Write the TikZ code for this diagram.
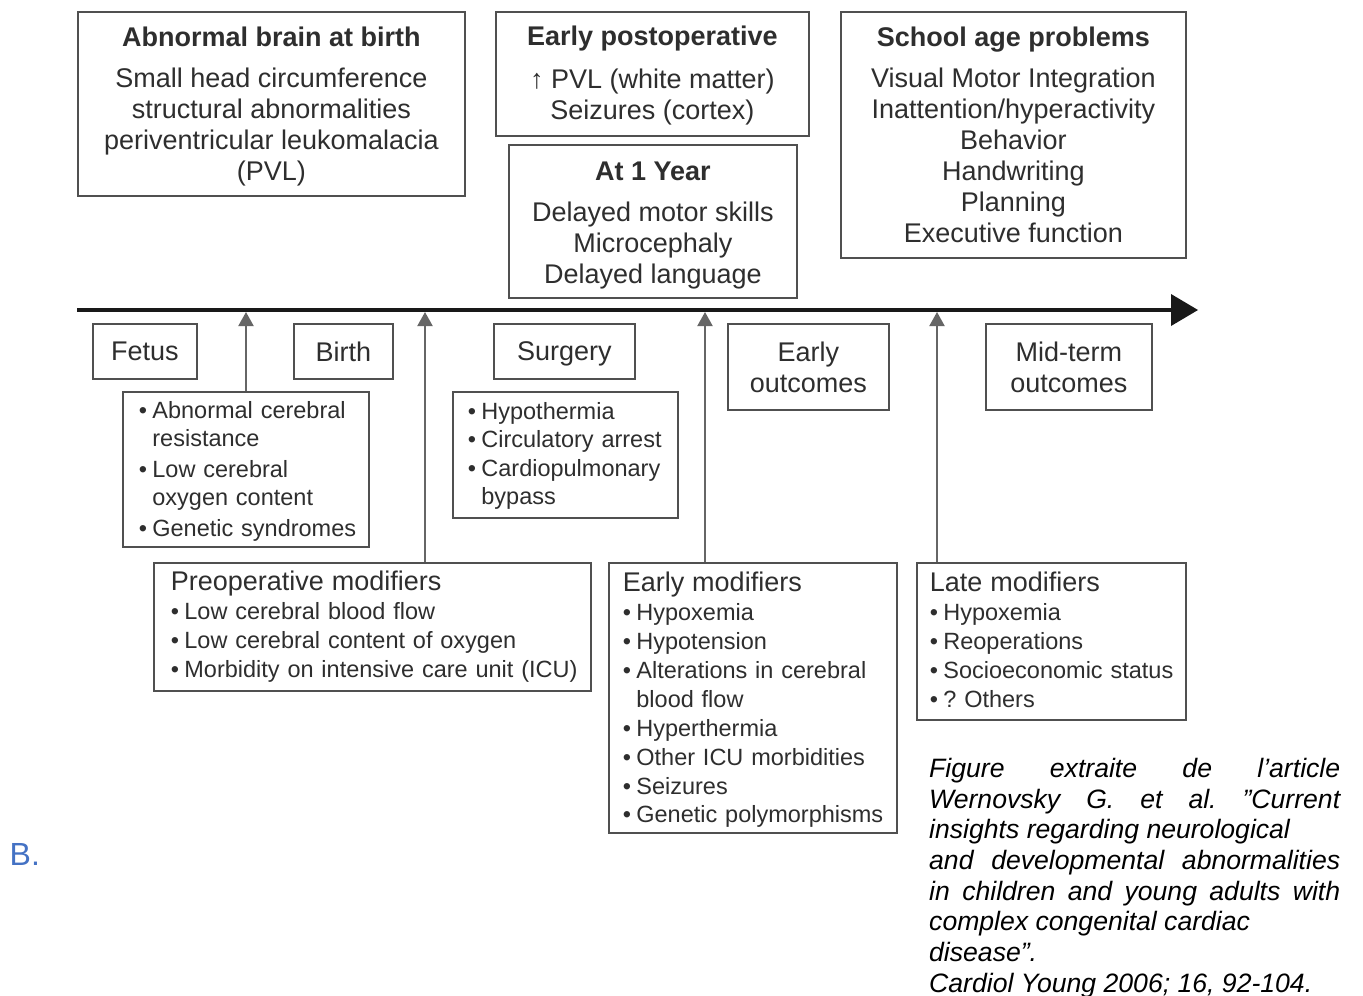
\documentclass[tikz,border=0pt]{standalone}
\usepackage{fontspec}
\setmainfont{Liberation Sans}
\usetikzlibrary{arrows.meta}

\definecolor{txt}{HTML}{2E2E2E}
\definecolor{edgegray}{HTML}{505050}
\definecolor{risergray}{HTML}{666666}
\definecolor{labelblue}{HTML}{4472C4}

\newcommand\fz[2]{\fontsize{#1}{#2}\selectfont}
\newcommand\bul{\makebox[13.5pt][l]{\textbullet}}
\newcommand\bl[1]{\mbox{\bul#1}}
\newcommand\ct[1]{\mbox{\hspace*{13.5pt}#1}}
\newcommand\ttl[1]{{\fz{27}{29}#1}}
% invisible struts that nudge a centred text block up or down
\newcommand\up[1]{\rule{0pt}{#1}}
\newcommand\dnr[1]{\rule[-#1]{0pt}{0pt}}

\tikzset{
  boxf/.style={draw=edgegray, line width=1.8pt, inner sep=0pt, anchor=north west, text=txt},
  cbox/.style={boxf, align=center, font=\fz{27}{31}},
  lbox/.style={boxf, align=left, font=\fz{23.5}{29}},
  riser/.style={draw=risergray, line width=2pt, -{Triangle[length=14pt,width=15pt]}},
  timeline/.style={draw=black!90, line width=4pt, -{Triangle[length=27pt,width=32pt,line width=0pt]}}
}

\begin{document}
\frenchspacing
\begin{tikzpicture}[x=1pt,y=-1pt]
\fill[white] (0,0) rectangle (1363,996);
\useasboundingbox (0,0) rectangle (1363,996);

% outcome boxes above the time axis
\node[cbox, minimum width=387pt, minimum height=184pt] (brain) at (77,11)
  {\up{25.7pt}{\bfseries Abnormal brain at birth}\\[10pt]
   Small head circumference\\ structural abnormalities\\
   periventricular leukomalacia\\ (PVL)};
\node[cbox, minimum width=313pt, minimum height=124pt] (postop) at (495,11)
  {\up{23.7pt}{\bfseries Early postoperative}\\[12pt]
   ↑ PVL (white matter)\\ Seizures (cortex)};
\node[cbox, minimum width=288pt, minimum height=153pt] (year) at (508,144)
  {\up{27.7pt}{\bfseries At 1 Year}\\[10pt]
   Delayed motor skills\\ Microcephaly\\ Delayed language};
\node[cbox, minimum width=345pt, minimum height=246pt] (school) at (840,11)
  {{\bfseries School age problems}\\[10pt]
   Visual Motor Integration\\ Inattention/hyperactivity\\ Behavior\\
   Handwriting\\ Planning\\ Executive function};

% time axis
\coordinate (tstart) at (77,310);
\coordinate (tend) at (1198,310);
\draw[timeline] (tstart) -- (tend);

% stages along the axis
\node[cbox, minimum width=104pt, minimum height=55pt] (fetus) at (92,323) {Fetus};
\node[cbox, minimum width=99pt, minimum height=55pt] (birth) at (293,323) {Birth};
\node[cbox, minimum width=141pt, minimum height=55pt, text depth=0pt] (surgery) at (493,323) {Surgery};
\node[cbox, minimum width=161pt, minimum height=86pt] (earlyout) at (727,323) {Early\\ outcomes};
\node[cbox, minimum width=166pt, minimum height=86pt] (midout) at (985,323) {Mid-term\\ outcomes};

% risk factor lists
\node[lbox, font=\fz{23.5}{28}, text width=214pt, inner xsep=16pt, minimum height=155pt] (fetal) at (122,391)
  {\up{21.5pt}\bl{Abnormal cerebral}\\ \ct{resistance}\\[3pt]
   \bl{Low cerebral}\\ \ct{oxygen content}\\[3pt]
   \bl{Genetic syndromes}};
\node[lbox, font=\fz{23.5}{28.5}, text width=195pt, inner xsep=15pt, minimum height=126pt] (surgrisk) at (452,391)
  {\up{19pt}\bl{Hypothermia}\\ \bl{Circulatory arrest}\\ \bl{Cardiopulmonary}\\ \ct{bypass}};

\node[lbox, text width=403pt, inner xsep=17pt, minimum height=128pt] (preop) at (153,562)
  {\ttl{Preoperative modifiers}\\
   \bl{Low cerebral blood flow}\\
   \bl{Low cerebral content of oxygen}\\
   \bl{Morbidity on intensive care unit (ICU)}};
\node[lbox, font=\fz{23.5}{28.9}, text width=260pt, inner xsep=14pt, minimum height=270pt] (earlymod) at (608,562)
  {\up{23.7pt}\ttl{Early modifiers}\\
   \bl{Hypoxemia}\\ \bl{Hypotension}\\ \bl{Alterations in cerebral}\\ \ct{blood flow}\\
   \bl{Hyperthermia}\\ \bl{Other ICU morbidities}\\ \bl{Seizures}\\ \bl{Genetic polymorphisms}};
\node[lbox, text width=243pt, inner xsep=13pt, minimum height=157pt] (latemod) at (916,562)
  {\ttl{Late modifiers}\\
   \bl{Hypoxemia}\\ \bl{Reoperations}\\ \bl{Socioeconomic status}\\ \bl{? Others}\dnr{4pt}};

% arrows from the lists up to the axis
\coordinate (t1) at (246,312);
\coordinate (t2) at (425,312);
\coordinate (t3) at (705,312);
\coordinate (t4) at (937,312);
\draw[riser] (fetal.north -| t1) -- (t1);
\draw[riser] (preop.north -| t2) -- (t2);
\draw[riser] (earlymod.north -| t3) -- (t3);
\draw[riser] (latemod.north -| t4) -- (t4);

% panel letter and source
\node[anchor=base west, inner sep=0pt, text=labelblue, font=\fz{32}{36}] (panel) at (9.5,865) {B.};
\node[anchor=north west, inner sep=0pt, align=left, text=black, font=\fz{26.6}{30.7}\itshape] (source) at (929,758)
  {\makebox[411pt][s]{Figure extraite de l’article}\\
   \makebox[411pt][s]{Wernovsky G. et al. ”Current}\\
   insights regarding neurological\\
   \makebox[411pt][s]{and developmental abnormalities}\\
   \makebox[411pt][s]{in children and young adults with}\\
   complex congenital cardiac\\
   disease”.\\
   Cardiol Young 2006; 16, 92-104.};
\end{tikzpicture}
\end{document}
